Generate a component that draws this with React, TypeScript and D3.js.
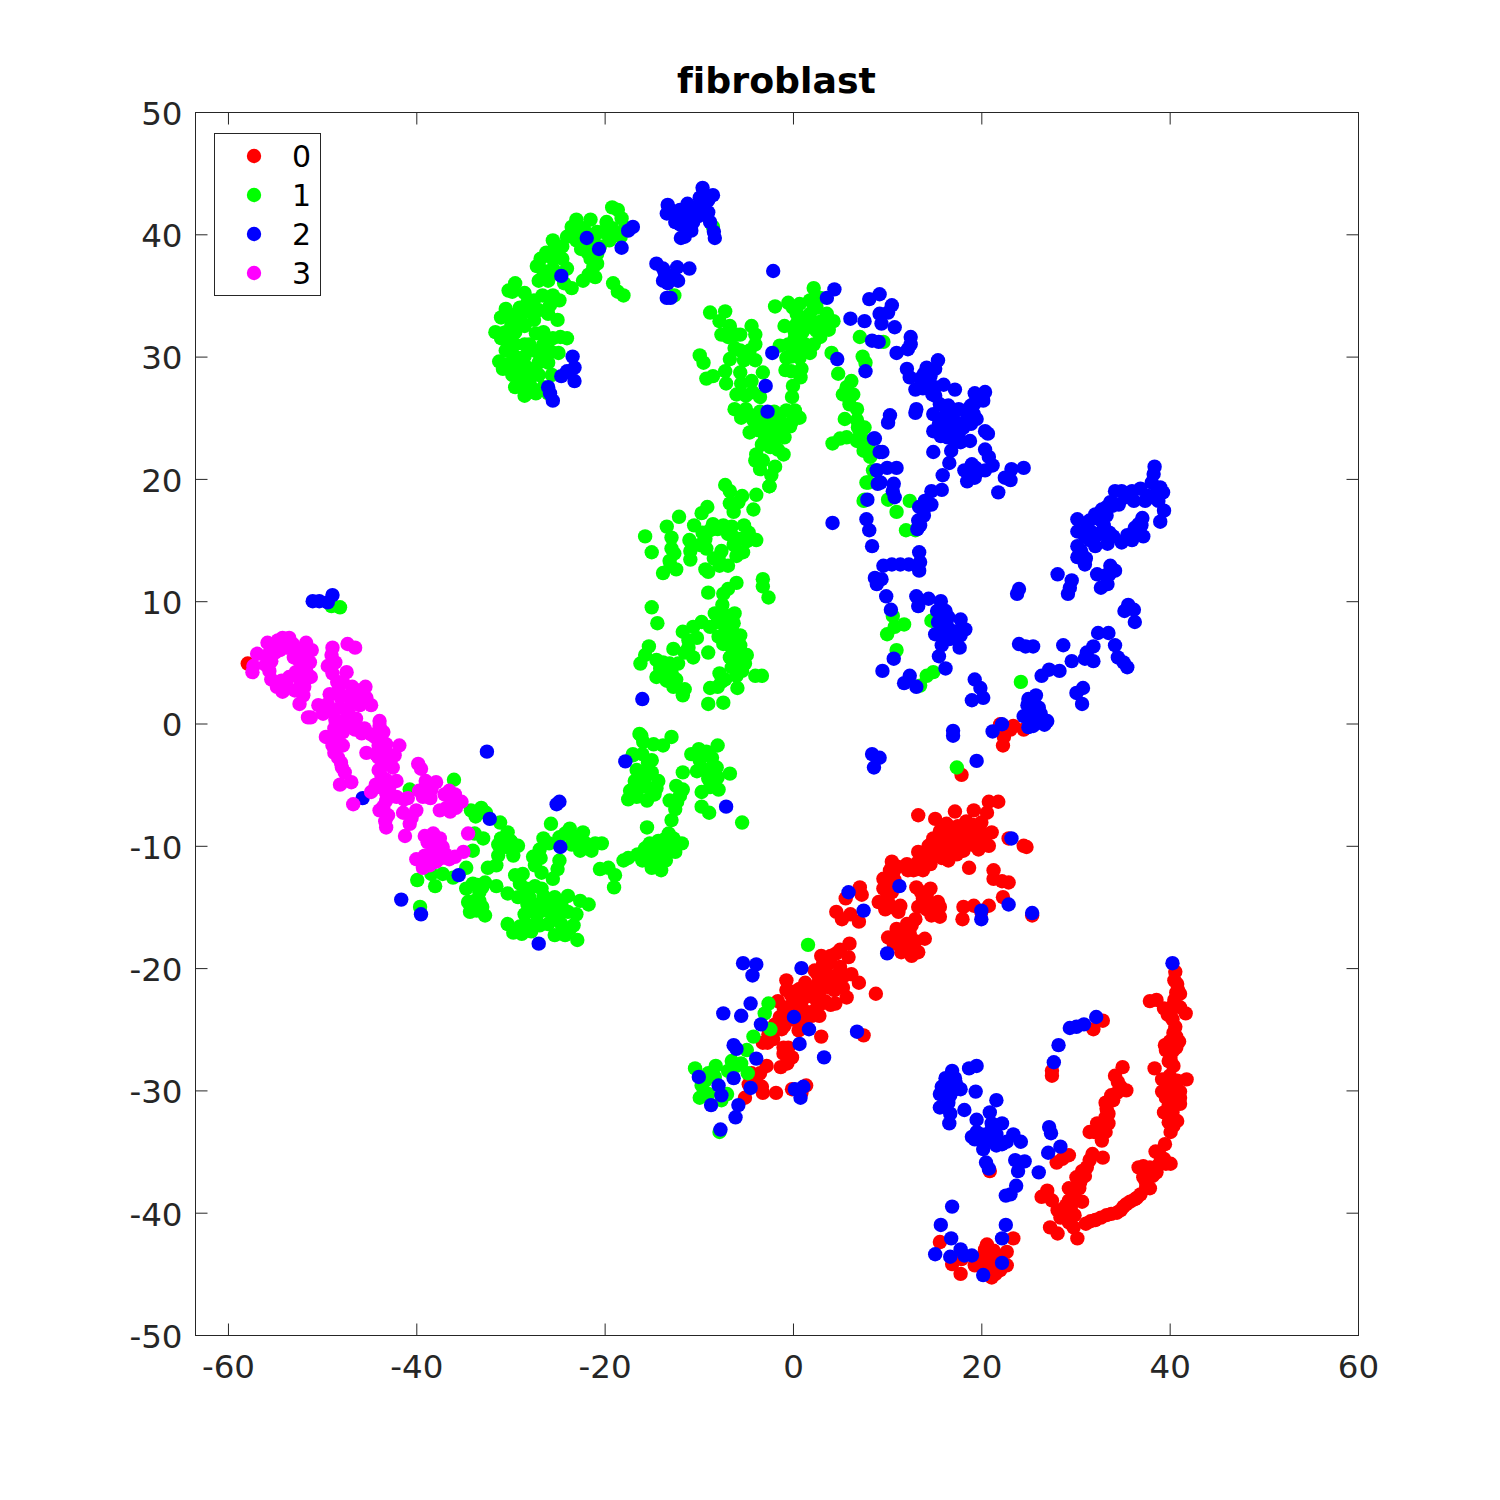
import React, { useEffect, useRef } from "react";
import * as d3 from "d3";

type P = [number, number];
const toPairs = (a: number[]): P[] => d3.range(0, a.length, 2).map((i) => [a[i], a[i + 1]] as P);

const title = "fibroblast";
const labels = ["0", "1", "2", "3"];
const colors = ["#ff0000", "#00ff00", "#0000ff", "#ff00ff"];
const xTicks = [-60, -40, -20, 0, 20, 40, 60];
const yTicks = [-50, -40, -30, -20, -10, 0, 10, 20, 30, 40, 50];

const class0 = [
  22.3,-1.8,22.4,-1.1,23.1,-.5,23.4,-.2,24.5,-.5,22,-.06,17.9,-4.2,
  21.8,-6.4,20.8,-6.4,20.6,-7.3,19.2,-7.1,17.2,-7.2,13.3,-7.5,15.1,-7.8,18.4,-8,20,-8.1,16.3,-8.2,15.6,-8.8,17.4,-8.9,18.8,-8.9,21.1,-8.9,20.4,-9.2,14.9,-9.4,17,-9.4,19.3,-9.4,18.1,-10,20.8,-10,19.7,-10.3,14.4,-10,13.3,-10.5,15.1,-10.8,18.1,-10.4,16.5,-11.2,17.4,-10.7,13.8,-12,12.1,-11.5,10.5,-11.3,12.8,-12,14.6,-11.5,18.7,-11.8,24.5,-10,24.8,-10.1,22.9,-9.4,
  16,-9,16.8,-8.5,19,-8.3,19.6,-8.7,20.2,-9.7,18.6,-9.6,17.8,-9.6,16.3,-9.9,15.5,-10.2,14.3,-11,13.2,-11.4,
  15.8,-11,16.5,-10.4,17,-10,17.5,-8.4,18.2,-9,19.1,-8.3,19,-9.9,20.1,-9,16.2,-9.5,15,-9.9,14.8,-10.8,13.8,-11,13.2,-11.9,12.2,-12,11.1,-11.7,10.7,-12.1,9.9,-13.1,10,-14.3,10.1,-14.6,11.4,-14.9,13.6,-13.8,14.2,-14.1,14.8,-15,14.2,-15.2,
  21.3,-12,21.3,-12.7,22.9,-13,22.2,-12.9,22.3,-14.2,20.8,-14.9,19.2,-14.9,18.1,-15,18,-16,20,-15.4,25.4,-15.7,
  10.3,-12,9.6,-12.7,10.8,-12.8,9.6,-13.5,10.5,-13.8,13.1,-13.4,14.6,-13.5,13.8,-14.3,15.4,-14.6,13.3,-15,15.6,-15,14.7,-15.7,15.6,-15.8,9.1,-14.6,9.8,-15.2,11.2,-15.4,10.5,-15,
  7.1,-13.4,7.3,-14,5.6,-14.3,4.6,-15.4,5.2,-16,6.1,-15.6,7,-16.2,
  13,-16,12.1,-16.4,11,-16.8,10.1,-17.5,12.4,-17.2,14,-17.6,10.7,-18,11.7,-17.9,11.5,-18.7,12.6,-19,13.3,-18.7,12.6,-16.5,11.8,-17,11.2,-17.5,13,-17.8,12.2,-18.2,
  6,-18,5.9,-19.1,4.6,-18.8,3,-19,3.7,-19.7,2.3,-20.2,5,-19.9,6.2,-20.5,7,-21.2,8.8,-22.1,4.3,-20.7,3.2,-20.7,1.3,-21.2,.7,-21.7,-.7,-21,-.7,-21.8,-1.6,-22.7,0,-22.5,2.9,-21.8,3.9,-21.6,5.3,-21.6,2.2,-22.4,3.4,-22.7,4.5,-22.9,5.7,-22.4,.9,-22.8,-1,-23.2,-1.4,-24,.4,-23.6,2,-23.9,2.8,-23.9,-.9,-24.7,.6,-25.1,-1.9,-24.6,3,-25.6,7.5,-25.5,
  4,-19.5,4.9,-20.4,3.6,-21,4.4,-21.8,2.6,-20.5,-.2,-22.2,-.3,-23.4,
  5,-18.5,4,-19,3.2,-19.6,3.5,-20.4,4.2,-21.2,5,-21,5.5,-20.6,2.7,-21.2,1.8,-21.8,1.2,-22.4,.2,-21.9,-.3,-24.2,.6,-24.5,3,-22.9,4,-23,2.5,-23.3,1.6,-23.6,1.3,-24.2,-1.2,-25,-2.6,-25.4,-2.7,-26.1,-1,-26.5,-.6,-27.8,-3.3,-29.7,-3.9,-28.9,-4.4,-28.6,
  -2.1,-25.8,-3.2,-26.1,-.5,-26.5,-1,-27,-.1,-27.3,-1.3,-28.1,-2.8,-28,-3.5,-28.6,-4,-29.2,-4.7,-29.5,-3.2,-30.2,-1.8,-30.2,-5.1,-30.6,-.1,-29.9,1.4,-29.6,.9,-30.2,
  40.6,-20.3,40.8,-21.3,41.1,-22.1,37.9,-22.7,38.6,-22.6,39.4,-23.3,40.4,-23,41.7,-23.7,40.1,-23.9,40.6,-24.8,32.9,-24.3,31.9,-25,40.7,-22,40.3,-24.2,
  40.5,-21,40.9,-21.8,40.5,-22.6,41.1,-23.2,39.8,-23.8,40.4,-25.3,40,-26,40.7,-26.5,39.6,-26.7,40.1,-27.5,39.7,-29.6,40.6,-29.9,39.6,-30.6,40.5,-30.7,41.1,-30.6,40.2,-31.5,39.9,-32,40.4,-32.9,
  41,-26,39.5,-26.3,40.4,-26.7,39.9,-27.6,40.4,-28,38.4,-28.2,27.5,-28.8,27.5,-28.4,40.7,-25.6,40.1,-27.1,
  39.2,-29.1,41.8,-29.1,40.8,-29.2,40.1,-29.7,39.2,-30.1,41.1,-30.1,41.1,-31.1,39.9,-31.2,39.4,-31.8,40.8,-32.5,39.9,-32.6,40.1,-33.4,40,-28.8,40.5,-30.5,40.3,-31.8,
  35,-28.1,34.2,-28.8,34.8,-29.7,35.4,-30,33.2,-31,34,-30.8,33.5,-31.9,32.3,-32.7,33.5,-32.7,31.5,-33.4,33.2,-33.4,32.8,-34.1,34.4,-30.2,33,-33,
  34.5,-29.3,33.8,-30.4,33.3,-31.5,33.2,-32.2,32.5,-33.1,32,-33.4,
  39.5,-34.4,38.5,-35,40.1,-36,39.4,-35.6,36.7,-36.3,37.9,-36.3,37.2,-37.1,38.6,-36.7,37.9,-38,36.9,-38.5,35.8,-39.1,35.1,-39.5,34.4,-40,33.3,-40.2,32.1,-40.6,31.1,-40.9,38.9,-36,37.5,-37.6,36.3,-38.9,
  38.9,-35.2,39.6,-36,37.2,-36.2,38.2,-37,37.5,-38,36.5,-38.8,35.4,-39.3,34.8,-39.8,33.8,-40.1,32.7,-40.4,31.6,-40.7,
  31.8,-35.2,32.9,-35.5,31.2,-36.3,30.1,-37.1,31,-37,29.3,-38,30.4,-38,30.7,-39.1,29.3,-39,28.1,-39.8,28.7,-40,29.9,-40.2,29.3,-40.8,27.3,-41.2,28.1,-41.7,29.8,-41.2,30.2,-42.1,29.5,-39.6,
  31.5,-35.7,30.7,-36.6,30.5,-37.5,29.8,-38.4,29.6,-39,29,-39.4,28.4,-40.4,
  27,-38.2,26.4,-38.7,27.5,-39,28,-35.9,29.3,-35.3,28.6,-35.6,20.9,-36.6,
  15.6,-42.4,23.4,-42.1,20.6,-42.6,16.9,-44.2,17.9,-43.8,17.8,-45,19.3,-44.3,20.2,-43.5,21.3,-43.1,22.7,-43.2,20.8,-44.3,22,-44.7,22.7,-44.3,21.1,-45.3,21.5,-45,20.4,-43,21.6,-43.6,19.8,-44,20.5,-44.8,21.5,-44.2,21,-43.8,
  -57.9,4.9,
];

const class1 = [
  -19.2,42.2,-18.6,42,-18.2,41.3,-17.8,40.5,-18.3,39.8,-19.2,40.5,-19.8,41,-20.8,40.2,-21.5,41.2,-22.2,40.5,-23,41.2,-23.5,40.6,-24,39.8,-22.5,39.3,-21.5,39.5,-20.5,39,-19.5,39.5,-21.8,38.5,-25.5,39.5,-25.3,38.8,-26.2,38.5,-26.8,38,-25.5,38,-24.5,38,-27.2,37.4,-24,37.2,-25,36.8,-26,36.2,-24.3,36,-23.5,35.6,-25.5,35,-26.6,35,-27.5,34.6,-28.5,35.2,-29.5,36,-29.8,35.3,-30.2,35.4,-29,34,-30,33.4,-31,33.2,-31.6,32,-30.5,32,-29.5,32,-28.5,32.5,-27.5,33,-26,33.5,-25,33,-26.5,32,-25.5,31.5,-24.7,31.6,-24,31.5,-28.5,31,-29.5,31,-31,31.5,-30.5,30.5,-29.5,30,-28.5,30,-31.2,29.6,-30.8,29,-29.8,28.5,-29,28.5,-28,29,-27,29.5,-26,29.5,-27,28.5,-28,28,-28.7,27.5,-29.5,27.5,-28.5,26.8,-27.8,27.5,-26.5,27.5,-26,27,-28,31,-27.5,30.5,-26.5,31,-22.5,38.8,-21.5,38,-21.2,37.3,
  -22,40,-21,40,-20.2,40.2,-22.8,40.2,-23,39.5,-20.8,38.4,-24.5,39,-25.5,37.2,-26.5,37,-27,36.2,-25.8,34.2,-24.8,34.6,-27,33.8,-28,33.7,-30.5,33.9,-30,31.3,-30.9,31.9,-29.9,32.6,-29.3,29.4,-30.2,29.4,-28.4,29.2,-27.3,31.9,-26.8,30,-25.7,30.4,-27.3,27,-25.6,28.5,-24.9,30.3,-29,33.1,-28.2,34.4,
  -19.1,36,-18.6,35.3,-18,35,-22.3,36.2,-21.7,36.7,-20.8,37.6,-21,36.5,-8.5,40.6,-12.6,35,
  2.2,35.6,-1.9,34.1,-.5,34.4,.7,34.3,1.8,34.6,2.9,34.8,2.5,34,.4,33.5,1.8,33.5,3.6,33.5,4.3,32.9,3.8,32.2,-.9,32.5,.4,32.7,1.5,32.4,2.5,32.1,-1.4,30.9,0,30.8,1.3,31,2.2,31,.7,29.9,-.7,29.9,-.2,28.8,.9,29,
  1.2,33,1,32,.2,31.5,1.8,30.3,-.2,30,0,34,.9,33.2,.2,32,2,32.8,3,32.9,2.9,31.6,.8,30.8,-.5,31,.8,28.3,-.8,28.9,
  -8.8,33.6,-7.2,33.7,-7.8,32.9,-6.7,32.5,-6,31.8,-6.9,31.6,-4.4,32.5,-4,31.8,-4,31,-5.6,30.5,-4.6,30.5,-6.7,29.8,-4,29.7,-9.9,30.1,-9.5,29.5,-7.2,28.8,-8.5,28.4,-9.2,28.2,-7.1,27.8,-5.6,28.7,-4.4,28,-3.2,28.7,0,27.6,-.1,26.7,
  -5.6,31.8,-6.2,30.7,-5.2,29.7,-7.6,31.8,-5.5,27.8,-4.3,27.1,-5.5,25,-4.5,25.2,-3.8,24,-3.2,23.9,-3.3,22.8,-2,23.2,-1.6,22.4,-.3,24.3,.2,25.6,-1,24.5,-2,25.5,-3.2,21.5,
  -6,26.9,-5,26.8,-3.5,26.7,-6.2,25.7,-5,25.7,-4.2,24.8,-3.2,24.8,-2.1,24.8,-.7,25.6,.7,25,0,24.8,-1.4,24.2,-2.8,23.9,-4.6,23.8,-.9,23.4,-2.4,22.6,-3.9,22,-4,21.5,-3.5,20.8,-1,22,-1.9,21,-2.3,20.3,-2.5,19.4,-2.4,24.2,-3.5,25.5,-1.5,25,-3,23.2,-1.8,23.6,
  4.1,30.3,7.4,30,7.7,29.5,7.1,31.6,9.6,31.2,4.8,28.6,6.2,28,5.7,27.5,5.3,26.9,6,26.1,6.8,25.7,5.5,24.9,6.8,24.8,7.6,24.2,5.7,23.4,4.2,22.9,5,23.3,6.8,23.1,7.5,22.3,8.2,21.8,8.5,20.7,7.8,19.7,7.5,18.2,8,19.7,7.6,18.3,6.4,26.9,6.9,24.2,7,23.4,7.7,23.1,8,22.6,
  14.9,4.2,14.2,3.9,13.5,3.1,11,6,11.8,8.1,10.8,7.9,10,7.3,14.7,8.4,10.6,8.8,12,15.8,13,15.8,11,17.3,12.4,18.2,10.1,18.3,24.2,3.4,
  17.4,-3.6,-48.1,9.5,-49,9.6,
  -7.2,19.5,-6.7,19,-5.4,18.6,-3.9,18.7,-2.5,19.4,-6.7,18,-5.8,18.1,-6.3,17.3,-4.2,17.5,-9.1,17.7,-9.7,17.2,-12.1,16.9,-13.4,16.1,-10.5,16.2,-15.7,15.3,-15,14,-12.9,15.2,-12.9,14.3,-13.1,13.3,-13.8,12.3,-12.4,12.6,-10.9,14.1,-10.9,13.4,-9.3,12.6,-9,12.4,-8.5,16.3,-7.4,16.2,-6.5,16.1,-9.3,15.1,-8.8,15.8,-9.2,14.3,-5.6,15.1,-6.3,14.6,-4.7,15.6,-3.9,15,-5.3,14,-7.9,13.5,-7.8,12.9,-6.9,12.9,-7.6,14.1,-6.9,15.5,-3.2,11.8,-3.2,11.2,-2.6,10.3,-6,11.5,-6.9,11,-7.4,10.6,-9,10.7,
  -8,15.9,-6.4,15.3,-8.4,13.5,-6,13.7,-11,15,-13,12.9,-12.6,13.9,-5.2,16.2,-4.9,14.9,-9.6,15.6,-9.9,14.6,
  -15,9.5,-14.4,8.2,-7.5,9.7,-8.3,9,-6.2,9,-9.7,8.3,-11.7,7.5,-10.6,7.9,-8.8,7.9,-7.2,7.9,-6.3,8.2,-5.6,7.2,-7.9,7.1,-6.7,7.1,-11.1,6.8,-12.7,6.1,-11.5,5.8,-10.6,5.4,-9,5.8,-15.3,6.3,-15.7,5.6,-16.2,4.9,-14.5,5.2,-13.1,4.9,-12.2,4.9,-14.1,4.5,-12.9,4.2,-14.5,3.8,-13.4,3.5,-12.7,3,-11.5,2.8,-11.7,2.3,-6.7,6.4,-6,5.7,-4.9,5.6,-6.7,5.4,-5.1,4.9,-6,3.9,-7.8,4.1,-4,3.9,-3.3,3.9,-7.6,3.4,-8.8,2.9,-8,3,-5.9,2.9,-9,1.6,-7.4,1.7,
  -7.5,8.8,-7,8.8,-7,8.2,-8,8.3,-6.5,7.7,-7.4,6.5,-6.5,6.2,-5.6,6.4,-5.4,5,-6.5,4.6,-7.2,3.6,-11.1,6.2,-10.2,7,-13.4,4.4,-13.8,5,-12.4,3.6,-13.8,4,-5.4,4.3,
  -16.1,-1,-14.8,-1.7,-12.9,-1.1,-13.8,-1.8,-15.9,-1.5,-8,-1.8,-10,-2.1,-10.8,-2.5,-15.4,-3.2,-17,-2.6,-16.1,-4.1,-16.8,-4.7,-9.9,-3,-8.6,-2.8,-8.1,-3.6,-10.2,-3.9,-11.7,-4,-6.7,-4.1,-8.5,-4.7,-7.9,-5.4,-8.8,-5.2,-14.3,-4.7,-15.5,-5.2,-14.7,-5.8,-16.6,-5.8,-15.5,-6.3,-12.4,-5.1,-11.7,-5.4,-12,-5.9,-13.1,-6.3,-9.7,-5.6,-9.7,-6.8,-8.9,-7.3,-12.5,-7,-12.9,-7.9,-5.4,-8.1,-15.5,-8.5,-13.2,-9,-11.8,-9.8,-14.3,-9.6,-15.2,-9.8,-13.4,-9.8,-15.7,-10.2,-14.1,-10.2,
  -15,-4,-15.6,-4.3,-15,-3,-14.5,-5.3,-16,-5,-16,-2.5,-9.2,-2.3,-9.3,-3.8,-9,-4.5,-8.5,-3.5,-8,-4.4,-12.3,-6.4,-13.7,-9.5,-12.7,-9.4,-14.4,-10.7,-15,-10.4,-13,-10.2,
  -17,-2.5,-16.6,-3.8,-17.3,-5.5,-17.5,-6.2,-16.6,-6,-16.5,-5.2,-16.3,-.85,
  -16,-11.2,-14.5,-11,-15,-11.8,-14,-12,-13.5,-11.2,-12.5,-10.5,-15.5,-10.8,-14,-10.5,-16.5,-10.7,-17.5,-11,-18,-11.2,
  -36,-4.6,-40.7,-5.4,-39.9,-12.8,-38,-13.3,-39.6,-15,-38.4,-12.3,-37.2,-12.3,-36.1,-12.6,-34.7,-11.8,
  -34.2,-7.1,-33.1,-6.9,-32.6,-7.3,-31.1,-8.1,-30.3,-8.9,-33.8,-9,-32.9,-9.4,-34,-10.4,-31.3,-9.9,-29.2,-10,-30.4,-10.1,-29.7,-10.8,-31.3,-10.8,-31.5,-11.6,-32.4,-11.8,-25.7,-8.2,-23.7,-8.6,-22.3,-8.9,-23,-9.4,-21,-9.8,-20.3,-9.8,-22,-9.8,-22.6,-10.4,-21.4,-10.4,-24.2,-9,-26.5,-9.4,-26.9,-10.3,-27.6,-10.9,-24.8,-11.2,-25,-11.9,-27.4,-11.6,-26.7,-12.2,-25.5,-12.7,-28.7,-12.3,-29.5,-12.4,-20.5,-11.9,-19.6,-11.8,-18.9,-12.4,-19,-13.4,
  -22.8,-9.9,-24.8,-9.3,-25.9,-9.8,-23.5,-9.9,-26.8,-11,-30,-9.6,-31,-9.4,-29.9,-9.7,-33.7,-7.6,
  -34.7,-13.5,-34,-13.1,-32.7,-13,-31.5,-13.3,-33.3,-13.8,-34.5,-14.6,-33.3,-14.5,-34.3,-15.4,-32.7,-15.7,-33.6,-15.3,-33,-13.4,-33.5,-13.2,-33.8,-14.5,-33,-15,
  -30.3,-13.9,-29,-13.1,-27.4,-13.3,-29.2,-14.2,-28,-14.2,-26.5,-14.1,-25.3,-14.2,-23.9,-14.1,-22.6,-14.5,-21.7,-14.8,-27.6,-15,-28.5,-15.6,-27.2,-15.7,-26.2,-15.3,-24.8,-15.6,-23.9,-15.4,-23,-15.6,-26,-16.4,-24.6,-16.4,-23.7,-16.8,-25.3,-17.3,-24.2,-17.3,-22.9,-17.7,-30.3,-16.4,-29.7,-17.1,-28.8,-17.2,-27.8,-17,-26.9,-16.5,
  -28.3,-13.5,-28.2,-14.8,-27,-14.8,-25.7,-14.9,-26.7,-13.5,-24.6,-14.8,-27.2,-16.3,-25.5,-16,-24.4,-17,-23.3,-16.5,-29,-16.6,-28.2,-16.5,
  1.6,-18.1,-2.6,-22.9,-3,-23.7,-2.4,-25,-4.2,-25.6,-4.9,-26.7,-6.5,-27.6,-5.5,-27.8,-4.8,-28.6,-6.9,-28.4,-8.2,-28,-10.4,-28.2,-9,-28.6,-8.3,-28.9,-9.7,-29.6,-9.9,-30.6,-9,-30.3,-7,-30.3,-7.6,-30.8,-7.8,-33.4,-6,-28,-9.3,-29.2,
];

const class2 = [
  -21.9,39.7,-20.6,38.8,-18.2,38.9,-17.5,40.3,-17,40.6,-24.6,36.6,-23.4,30,-23.2,29.1,-24,28.8,-24.6,28.4,-23.2,28,-26,27.5,-25.8,27,-25.5,26.4,
  -9.6,43.8,-8.5,43.2,-9.9,43,-11.2,42.5,-13.3,42.4,-13.4,41.7,-12,41.5,-10.5,42.2,-9.5,42,-10,41.5,-9,41.8,-8.8,41,-11.6,41,-12,40.8,-11.2,40.7,-10.8,40.3,-12.5,41,-11.5,39.8,-11.9,39.7,-8.3,39.7,-8.4,40.2,-11,41.8,-10.6,41,-9,42.8,-13,42,-12,42,
  -14.5,37.6,-13.8,37.2,-12.3,37.3,-11,37.2,-13.8,36.2,-13.3,36,-12.2,36.2,-12.8,36.6,-13.4,34.8,-13,34.8,-2.1,37,-2.2,30.3,-2.9,27.6,-2.7,25.5,-13.2,36.6,-13.6,36.8,
  4.4,35.5,3.6,34.8,9.2,35.1,8.1,34.7,10.5,34.2,10.1,33.6,9.2,33.5,9.4,32.7,10.8,32.4,6.1,33.1,7.6,32.9,8.4,31.3,9.1,31.2,12.5,31.6,12.5,31,12.2,30.6,11,30.3,4.7,29.8,7.7,28.8,
  15.4,29.7,14.2,29.1,15.1,29,12.1,29,12.4,28.3,13.5,28.2,13,27.3,14.2,27.7,15.1,27.5,16,27.7,17.2,27.3,15.1,26.8,19.3,27,20.4,27.1,20.2,26.4,19.3,26.2,15.6,26.1,16.5,26,17.6,25.7,18.6,25.7,13.1,25.7,13,25.4,10.3,25.2,10.1,24.6,14.9,25.3,16.2,25.2,18.5,25,19.5,24.9,16.3,24.6,18.1,24.2,14.9,23.9,16.2,23.8,17,24,20.4,23.9,20.7,23.7,16.9,23.4,17.8,23,18.8,23.1,8.7,23.3,9.5,22.2,14.9,22.2,16.8,22.3,16.6,21.3,20.4,22.4,20.8,21.8,21.2,21.1,19,21.2,18.2,20.7,19.5,20.5,20.4,20.7,18.5,19.8,19.3,20.1,24.5,20.9,23.2,20.8,22.5,20.1,23.1,19.9,21.8,18.9,11,20.9,10,20.9,8.9,20.7,15.9,20.3,9.3,19.7,10.7,19.6,10.8,18.5,10.6,19,7.9,18.3,15.8,19.1,14.7,19,14.7,17.9,14,18.2,13.4,17.7,13.9,17,13.3,16.6,13.2,15.9,4.2,16.4,7.8,16.7,8.1,15.8,8.4,14.5,
  13.9,28.6,14.6,28.4,13.8,27.4,14.8,26.9,18.9,26,19.2,25.3,16.6,25.3,17.2,24.7,15.5,24.5,15.7,23.5,16.4,23.4,17.5,24.4,18.9,24.5,17.6,23.7,19.4,20.9,18.8,20.4,14.2,17.9,13.9,17.5,13.5,16.2,
  8.9,20.7,9,19.6,8.6,23.3,9.2,22.2,
  13.4,14,13.5,13.2,13.4,12.5,12.3,13,11.4,13,10.5,13,9.6,12.9,8.7,11.9,9.4,11.8,8.9,11.4,
  9.9,10.4,10.4,9.3,13.1,10.4,13.3,9.6,14.4,10.2,15.7,10,15.3,9.2,16.2,9.2,16.5,8.7,17.8,8.5,15.4,8.3,16.3,8.1,15.1,7.3,16.2,7.4,18.3,7.7,17.8,7.2,16.9,7,17.7,6.2,15.8,6.4,15.5,5.5,16.2,4.5,10.7,5.3,9.5,4.3,12.4,3.9,11.8,3.3,13.1,3,19.3,3.6,19.9,2.9,19,1.9,20.2,2.1,17,-1,17,-.6,8.4,-2.5,9.2,-2.8,19.5,-3.06,8.6,-3.6,
  15.9,8.9,16.6,7.7,15.9,7.4,16.6,6.9,17.3,7.5,
  38.4,21,38.3,20.4,38.1,19.7,39,19.3,39.3,18.9,38.3,18.5,36.9,19.2,35.6,18.8,34.2,19,35.3,18.5,36.2,18.2,33.7,18.1,32.8,17.5,32.1,17.1,33.3,17,39.4,17.4,39,16.5,37.1,16.8,36.3,16,30.2,16.7,30.2,15.7,31.2,16,33,16.2,32.6,15.5,34,15.3,34.9,14.8,36,15,37.2,15.3,33.4,14.7,32.1,14.5,30.2,14.5,30.2,13.6,31,13,33.7,12.9,34.2,12.5,32.3,12.2,33.2,12.1,33.4,11.4,32.7,11.1,28.1,12.2,29.6,11.7,29.4,11.1,29.2,10.6,24,11,23.8,10.6,35.6,9.7,36.2,9.3,35.2,9.2,36.3,8.3,
  34.6,17.9,37.7,18.6,31.5,16.6,33.9,17.8,36.7,16.3,31,15.3,30.7,13.8,37.4,18.2,38.8,18.2,38.7,19.1,36,19,34.9,19,33.3,17.7,32.5,16.7,31.8,15.6,31.5,15,33.6,15.6,35.5,15.4,36.5,15.6,37,16.2,31.1,13.5,30.6,14.1,33.6,12.2,
  32.4,7.4,33.5,7.4,34.2,6.4,31.9,6.3,31.2,5.8,31.9,5.1,31,5.3,34.5,5.4,35.1,5,35.5,4.6,28.7,6.4,29.6,5.1,28.3,4.3,27.2,4.4,26.4,3.9,24,6.5,24.7,6.3,25.5,6.3,30.8,2.9,30.1,2.5,30.7,1.6,25.8,2.3,25,2,26.1,1.3,24.5,.6,25.2,.8,27,.2,25.5,-.2,26.3,.8,25.4,.3,22.2,-.06,21.2,-.65,25.6,1.2,25.9,.4,26.7,-.1,24.9,1.5,25,-.3,
  -51,10,-50.3,10,-49.4,9.9,-48.9,10.5,-16,2,-17.8,-3.1,-7.1,-6.8,
  -45.7,-6.1,-32.2,-7.8,-32.5,-2.3,-25.1,-6.6,-24.8,-6.4,-24.7,-10.1,-35.5,-12.4,-41.6,-14.4,-39.5,-15.6,-27,-18,
  11.3,-13.3,5.9,-13.8,7.5,-15.3,20,-15.3,20,-16,22.9,-14.8,23.2,-9.4,25.4,-15.5,10,-18.8,-5.3,-19.6,-3.9,-19.7,-4.3,-20.6,.9,-20,-4.5,-22.9,-7.4,-23.7,-5.5,-23.9,-3.4,-24.6,.1,-24,1.7,-25,6.8,-25.2,.7,-26.2,-6.3,-26.3,-6,-26.6,3.3,-27.3,-3.9,-27.4,-6.3,-29,-10,-28.9,-7.9,-29.6,-7.6,-30.4,-4.5,-29.8,-8.7,-31.2,-5.8,-31.2,-6.1,-32.2,-7.7,-33.2,.2,-29.9,1.1,-29.7,.8,-30.6,
  40.3,-19.6,32.2,-24,30.9,-24.6,30.1,-24.8,29.4,-24.9,28.2,-26.3,27.7,-27.7,
  19.5,-28,18.7,-28.2,16.9,-28.4,17.2,-29,17.8,-29.9,15.8,-29.7,16.5,-29.5,15.6,-30.3,16.7,-30.4,19.4,-30.1,15.6,-31.4,16.7,-31.9,16.6,-32.7,18.2,-31.6,21.6,-30.8,20.9,-31.8,19.5,-32.4,21.1,-32.7,22.2,-32.7,19.5,-33.4,19.3,-34,20.4,-34,20.2,-34.8,21.6,-33.6,21.6,-34.5,22.7,-34.2,23.4,-33.6,24.2,-34.2,27.2,-33,27.4,-33.5,28.4,-34.6,27.1,-35.1,23.6,-35.7,24.6,-35.8,23.9,-36.6,26.1,-36.7,20.5,-35.9,20.8,-36.4,23.7,-37.8,23.1,-38.5,22.6,-38.6,16.9,-39.5,15.7,-41,22.6,-41,22.2,-42.1,16.8,-42.1,15.1,-43.4,17.8,-43,16.7,-43.6,19,-43.5,18.2,-43.5,22.2,-44.1,20.2,-45.1,
  17.3,-29.4,16.2,-29,16.2,-30,17,-30,19,-33.8,20,-33.6,21,-33.3,21.5,-33,21.3,-34.2,22.2,-34.4,16.5,-31,
];

const class3 = [
  -54.2,7,-53.5,7,-55.8,6.6,-54.7,6.8,-53.1,6.5,-51.7,6.6,-56.9,5.7,-57.4,4.2,-57.3,4.7,-55.4,5.1,-55.6,4.3,-55.4,3.6,-54.3,3.5,-54.2,2.6,-53.5,3.8,-52.8,4.2,-52.4,5.1,-51.3,5,-53,5.4,-51.1,6,-51.2,3.8,-51.9,3,-52.9,2.7,-52.4,1.6,-51.5,.5,-51.2,.5,
  -55.5,6,-55,5.8,-54.5,6,-53.8,6.2,-52.5,6,-52,5.6,-51.8,5.3,-52,4.5,-51.7,4.3,-56,4.8,-55.9,5.5,-54.8,3,-53.8,3.2,-52.3,3.5,-52,2.3,
  -47.3,6.5,-46.5,6.2,-48.9,6.2,-49,5.6,-49.4,4.7,-48.9,4.1,-47.4,4.2,-47.8,3.4,-45.4,3,-46.2,2.7,-44.8,1.5,-45.3,2.1,-49.2,2.4,-48.1,2.2,-47.1,2.3,-50.4,1.5,-49.4,1.6,-49.9,.8,-48.1,1.3,-47.2,.9,-47.8,.2,-46.4,.4,-45.5,-.4,-48.7,-.4,-47.8,-.7,-49.6,-1.1,-48.5,-1.4,-47.8,-1.8,-48.7,-2.4,-48,-3.2,-47.6,-4,-48.1,-5,-46.9,-4.8,
  -48.6,5,-48.4,3.4,-48.2,3,-46.8,3,-46.5,2,-46,1.5,-46.9,1.7,-48.8,1,-48.6,.3,-47,-.3,-46.5,-.5,-45.8,-.8,-44.8,-.9,-48.8,-.9,-48.9,-1.8,-48.3,-2.8,-47.9,-3.6,
  -43.9,.2,-43.5,-.7,-44.4,-1.1,-43.2,-1.7,-41.8,-1.8,-45.3,-2.4,-44.3,-2.5,-43,-2.5,-42.3,-2.6,-43.5,-3.4,-43.7,-4.3,-42.1,-4.7,-39.8,-3.3,-39.5,-3.7,-39,-4.7,-37.9,-4.8,-38.4,-5.4,-39.3,-6,-36.5,-5.5,-35.9,-5.8,-35.2,-6.4,-35.8,-6.9,-37.5,-7.1,-36.8,-6.9,-38.5,-6.1,-40.9,-6.1,-42.1,-6,-44.8,-5.6,-43.9,-5.2,-43.2,-6.3,-43.9,-7.1,-43,-7.5,-43.2,-8.5,-46.7,-6.6,-41.4,-7.3,-40,-7.1,-40.5,-7.7,-40.7,-8.2,-41.2,-9.2,
  -43.9,-.2,-44,-1.8,-44,-2.8,-42.9,-3.2,-44,-3.8,-43.2,-4.6,-44.3,-5,-42.9,-5.3,-42.5,-3.6,-41.3,-6.2,-39.7,-5.5,-38.7,-5.6,-37,-5.8,-36.2,-6.4,-36.4,-7.2,-43.2,-5.7,-43.5,-6.8,-43.3,-8,
  -39.1,-9.2,-38.2,-9,-37.5,-9.4,-37.2,-10.1,-34.5,-9,-38.4,-10.8,-40,-11.1,-39.3,-11.8,-37.9,-11.3,-36.5,-11.1,-35,-10.5,-35.9,-10.9,-37.3,-11,-38.8,-9.7,-38,-9.9,-38.1,-10.3,-39.1,-10.8,-39,-11.3,-38.6,-11.6,-36.9,-10.7,
];

const s0 = toPairs(class0), s1 = toPairs(class1), s2 = toPairs(class2), s3 = toPairs(class3);
const series = [s0, s1, s2, s3];

const W = 1500, H = 1500;
const box = { left: 195, top: 112, right: 1358, bottom: 1335 };
const FONT = "'DejaVu Sans', sans-serif";
const INK = "#262626";

export default function App() {
  const ref = useRef<SVGSVGElement>(null);
  useEffect(() => {
    const svg = d3.select(ref.current!);
    svg.selectAll("*").remove();
    const x = d3.scaleLinear().domain([-63.5, 60]).range([box.left, box.right]);
    const y = d3.scaleLinear().domain([-50, 50]).range([box.bottom, box.top]);
    const w = box.right - box.left, h = box.bottom - box.top;

    svg.append("rect").attr("width", W).attr("height", H).attr("fill", "#fff");

    series.forEach((pts, k) => {
      svg.append("g").selectAll("circle").data(pts).join("circle")
        .attr("cx", (d) => x(d[0])).attr("cy", (d) => y(d[1]))
        .attr("r", 7.2).attr("fill", colors[k]);
    });

    const style = (g: any, size: number) => {
      g.select(".domain").remove();
      g.selectAll("line").attr("stroke", INK).attr("stroke-width", 1);
      g.selectAll("text").attr("fill", INK).attr("font-family", FONT).attr("font-size", size);
    };
    const fmt = (d: any) => String(d);
    const tl = 12;
    svg.append("g").attr("transform", `translate(0,${box.bottom + 0.5})`)
      .call(d3.axisBottom(x).tickValues(xTicks).tickFormat(fmt).tickSizeInner(-tl).tickSizeOuter(0).tickPadding(19))
      .call((g) => style(g, 32.5));
    svg.append("g").attr("transform", `translate(${box.left + 0.5},0)`)
      .call(d3.axisLeft(y).tickValues(yTicks).tickFormat(fmt).tickSizeInner(-tl).tickSizeOuter(0).tickPadding(13))
      .call((g) => style(g, 32.5))
      .call((g) => g.selectAll("text").attr("dy", "0.35em").attr("transform", "translate(0,1)"));
    svg.append("g").attr("transform", `translate(0,${box.top + 0.5})`)
      .call(d3.axisTop(x).tickValues(xTicks).tickFormat(() => "").tickSizeInner(-tl).tickSizeOuter(0))
      .call((g) => style(g, 32.5));
    svg.append("g").attr("transform", `translate(${box.right + 0.5},0)`)
      .call(d3.axisRight(y).tickValues(yTicks).tickFormat(() => "").tickSizeInner(-tl).tickSizeOuter(0))
      .call((g) => style(g, 32.5));

    svg.append("rect").attr("x", box.left + 0.5).attr("y", box.top + 0.5)
      .attr("width", w).attr("height", h).attr("fill", "none").attr("stroke", INK);

    svg.append("text").attr("x", (box.left + box.right) / 2).attr("y", 93)
      .attr("text-anchor", "middle").attr("font-family", FONT).attr("font-weight", "bold")
      .attr("font-size", 36.3).attr("fill", "#000")
      .style("font-variant-ligatures", "none").text(title);

    const lg = svg.append("g");
    lg.append("rect").attr("x", 214.5).attr("y", 133.5).attr("width", 106).attr("height", 162)
      .attr("fill", "#fff").attr("stroke", INK);
    const ly = d3.scalePoint<string>().domain(labels).range([156, 273]);
    labels.forEach((l, k) => {
      lg.append("circle").attr("cx", 254).attr("cy", ly(l)!).attr("r", 7.2).attr("fill", colors[k]);
      lg.append("text").attr("x", 292).attr("y", ly(l)! + 11).attr("font-family", FONT)
        .attr("font-size", 30).attr("fill", "#000").text(l);
    });
  }, []);
  return <svg ref={ref} width={W} height={H} style={{ position: "absolute", left: 0, top: 0, display: "block" }} />;
}
